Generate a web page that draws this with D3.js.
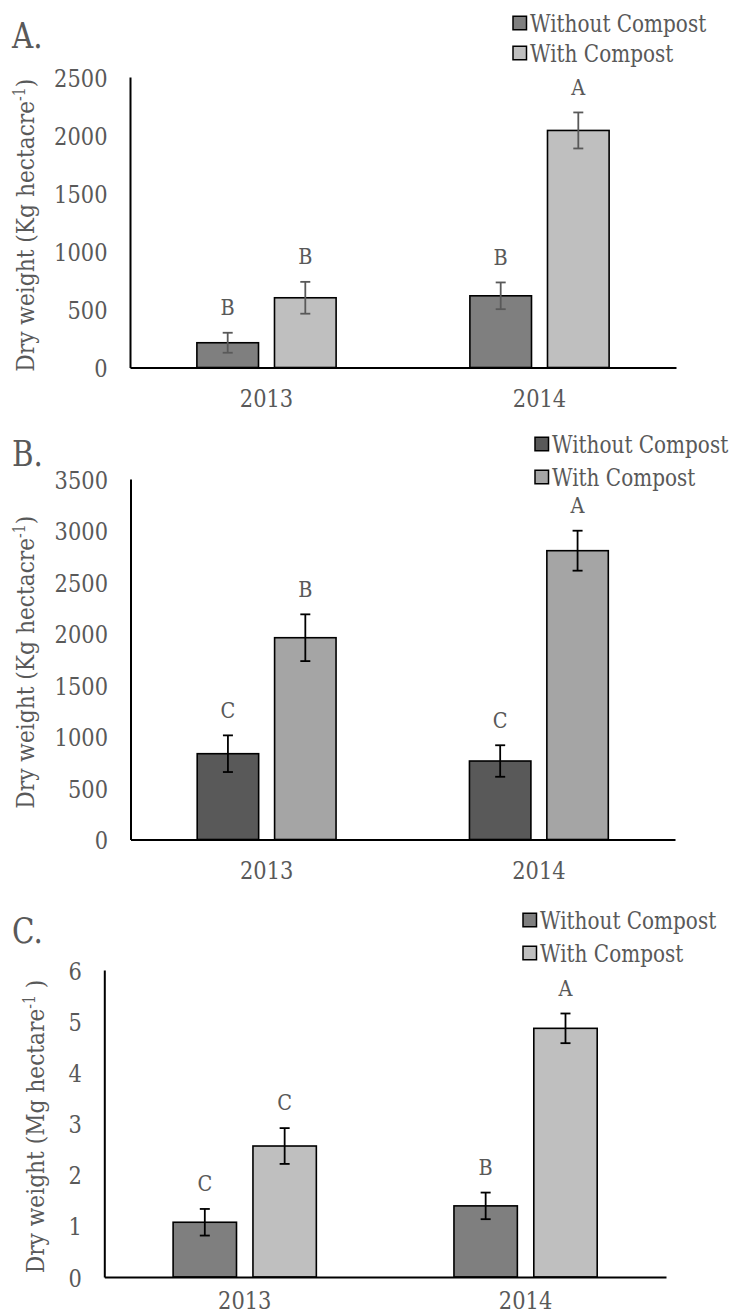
<!DOCTYPE html>
<html>
<head>
<meta charset="utf-8">
<script src="https://cdn.jsdelivr.net/npm/d3@7"></script>
<style>
  html, body { margin: 0; padding: 0; background: #fff; }
  svg { display: block; font-family: "DejaVu Serif", "Liberation Serif", serif; }
</style>
</head>
<body>
<div id="chart"></div>
<script>
(function(){
    // categories / series
    const years = ['2013', '2014'];
    const seriesNames = ['Without Compost', 'With Compost'];

    // Panel A - Kg hectacre-1
    const aWithout = [213, 617];
    const aWithoutErr = [86, 115];
    const aWith = [600, 2040];
    const aWithErr = [137, 155];
    const aWithoutLetters = ['B', 'B'];
    const aWithLetters = ['B', 'A'];
    const aTicks = [0, 500, 1000, 1500, 2000, 2500];

    // Panel B - Kg hectacre-1
    const bWithout = [833, 762];
    const bWithoutErr = [178, 153];
    const bWith = [1959, 2804];
    const bWithErr = [227, 194];
    const bWithoutLetters = ['C', 'C'];
    const bWithLetters = ['B', 'A'];
    const bTicks = [0, 500, 1000, 1500, 2000, 2500, 3000, 3500];

    // Panel C - Mg hectare-1
    const cWithout = [1.07, 1.39];
    const cWithoutErr = [0.26, 0.26];
    const cWith = [2.56, 4.86];
    const cWithErr = [0.35, 0.29];
    const cWithoutLetters = ['C', 'B'];
    const cWithLetters = ['C', 'A'];
    const cTicks = [0, 1, 2, 3, 4, 5, 6];

    const W = 737, H = 1316;
    const SX = 0.84;          // condensed look of the original text
    const FS = 25;            // base font size
    const TXT = '#595959';

    const panels = [
        {
            tag: 'A.', unit: 'Kg hectacre', unitEnd: ')',
            without: aWithout, withoutErr: aWithoutErr, withoutLetters: aWithoutLetters,
            with: aWith, withErr: aWithErr, withLetters: aWithLetters, ticks: aTicks,
            colors: ['#7f7f7f', '#bfbfbf'], errColor: '#595959',
            left: 130, right: 676, top: 77, base: 367.5,
            tagY: 35, legX: 513, legY: [23, 53], titleX: 25, yearOff: 30.5
        },
        {
            tag: 'B.', unit: 'Kg hectacre', unitEnd: ')',
            without: bWithout, withoutErr: bWithoutErr, withoutLetters: bWithoutLetters,
            with: bWith, withErr: bWithErr, withLetters: bWithLetters, ticks: bTicks,
            colors: ['#595959', '#a5a5a5'], errColor: '#000',
            left: 130.5, right: 675, top: 479, base: 839.5,
            tagY: 453, legX: 535, legY: [444, 477], titleX: 25, yearOff: 30.5
        },
        {
            tag: 'C.', unit: 'Mg hectare', unitEnd: ' )',
            without: cWithout, withoutErr: cWithoutErr, withoutLetters: cWithoutLetters,
            with: cWith, withErr: cWithErr, withLetters: cWithLetters, ticks: cTicks,
            colors: ['#7f7f7f', '#bfbfbf'], errColor: '#000',
            left: 104.3, right: 666, top: 970, base: 1277,
            tagY: 930, legX: 523, legY: [920, 953], titleX: 35, yearOff: 23
        }
    ];

    const svg = d3.select('#chart').append('svg')
        .attr('width', W).attr('height', H);

    // text helper - everything is slightly condensed
    function addText(g, x, y, str, size, anchor, sx) {
        return g.append('text')
            .attr('transform', `translate(${x},${y}) scale(${sx || SX},1)`)
            .attr('text-anchor', anchor || 'middle')
            .attr('dy', '0.36em')
            .style('font-size', size + 'px')
            .style('fill', TXT)
            .text(str);
    }

    function drawPanel(p) {
        const g = svg.append('g');

        const x0 = d3.scaleBand().domain(years)
            .range([p.left, p.right])
            .paddingInner(0.49).paddingOuter(0.245);
        const x1 = d3.scaleBand().domain(seriesNames)
            .range([0, x0.bandwidth()])
            .paddingInner(0.206);
        const y = d3.scaleLinear()
            .domain([0, p.ticks[p.ticks.length - 1]])
            .range([p.base, p.top]);

        const rows = [];
        years.forEach((yr, i) => {
            rows.push({ yr, s: seriesNames[0], c: p.colors[0], v: p.without[i], e: p.withoutErr[i], l: p.withoutLetters[i] });
            rows.push({ yr, s: seriesNames[1], c: p.colors[1], v: p.with[i], e: p.withErr[i], l: p.withLetters[i] });
        });
        const cx = d => x0(d.yr) + x1(d.s) + x1.bandwidth() / 2;

        // bars
        g.append('g').selectAll('rect').data(rows).join('rect')
            .attr('x', d => x0(d.yr) + x1(d.s))
            .attr('y', d => y(d.v))
            .attr('width', x1.bandwidth())
            .attr('height', d => y(0) - y(d.v))
            .attr('fill', d => d.c)
            .attr('stroke', '#000')
            .attr('stroke-width', 1.6);

        // error bars
        const eb = g.append('g').attr('stroke', p.errColor).attr('stroke-width', 1.8);
        eb.selectAll('.stem').data(rows).join('line').attr('class', 'stem')
            .attr('x1', cx).attr('x2', cx)
            .attr('y1', d => y(d.v + d.e)).attr('y2', d => y(d.v - d.e));
        eb.selectAll('.capTop').data(rows).join('line').attr('class', 'capTop')
            .attr('x1', d => cx(d) - 5).attr('x2', d => cx(d) + 5)
            .attr('y1', d => y(d.v + d.e)).attr('y2', d => y(d.v + d.e));
        eb.selectAll('.capBot').data(rows).join('line').attr('class', 'capBot')
            .attr('x1', d => cx(d) - 5).attr('x2', d => cx(d) + 5)
            .attr('y1', d => y(d.v - d.e)).attr('y2', d => y(d.v - d.e));

        // significance letters
        rows.forEach(d => addText(g, cx(d), y(d.v + d.e) - 26, d.l, 23));

        // y axis
        const yAxis = g.append('g')
            .attr('transform', `translate(${p.left},0)`)
            .call(d3.axisLeft(y).tickValues(p.ticks).tickFormat(d3.format('d')).tickSize(0).tickPadding(0));
        yAxis.attr('font-family', null).attr('font-size', null);
        yAxis.select('.domain').attr('stroke', '#000').attr('stroke-width', 2);
        yAxis.selectAll('.tick text')
            .attr('x', null).attr('dy', '0.36em')
            .attr('transform', `translate(-22.5,0) scale(${SX},1)`)
            .style('font-size', FS + 'px').attr('fill', TXT);

        // x axis
        const xAxis = g.append('g')
            .attr('transform', `translate(0,${p.base})`)
            .call(d3.axisBottom(x0).tickSize(0).tickPadding(0));
        xAxis.attr('font-family', null).attr('font-size', null);
        xAxis.select('.domain').attr('stroke', '#000').attr('stroke-width', 2.2);
        xAxis.selectAll('.tick text')
            .attr('y', null).attr('dy', '0.36em')
            .attr('transform', `translate(0,${p.yearOff}) scale(${SX},1)`)
            .style('font-size', FS + 'px').attr('fill', TXT);

        // y title
        const t = g.append('text')
            .attr('transform', `translate(${p.titleX},${(p.top + p.base) / 2 + 3}) rotate(-90) scale(0.87,1)`)
            .attr('text-anchor', 'middle')
            .attr('dy', '0.36em')
            .style('font-size', FS + 'px')
            .style('fill', TXT);
        t.append('tspan').text('Dry weight (' + p.unit);
        t.append('tspan').attr('dy', -9).style('font-size', '16px').text('-1');
        t.append('tspan').attr('dy', 9).text(p.unitEnd);

        // panel tag
        addText(g, 12, p.tagY, p.tag, 35, 'start');

        // legend
        const leg = g.append('g');
        seriesNames.forEach((s, i) => {
            leg.append('rect')
                .attr('x', p.legX).attr('y', p.legY[i] - 6.75)
                .attr('width', 13.5).attr('height', 13.5)
                .attr('fill', p.colors[i]).attr('stroke', '#000').attr('stroke-width', 1.5);
            addText(leg, p.legX + 17, p.legY[i], s, FS, 'start', 0.8);
        });
    }

    panels.forEach(drawPanel);
})();
</script>
</body>
</html>
